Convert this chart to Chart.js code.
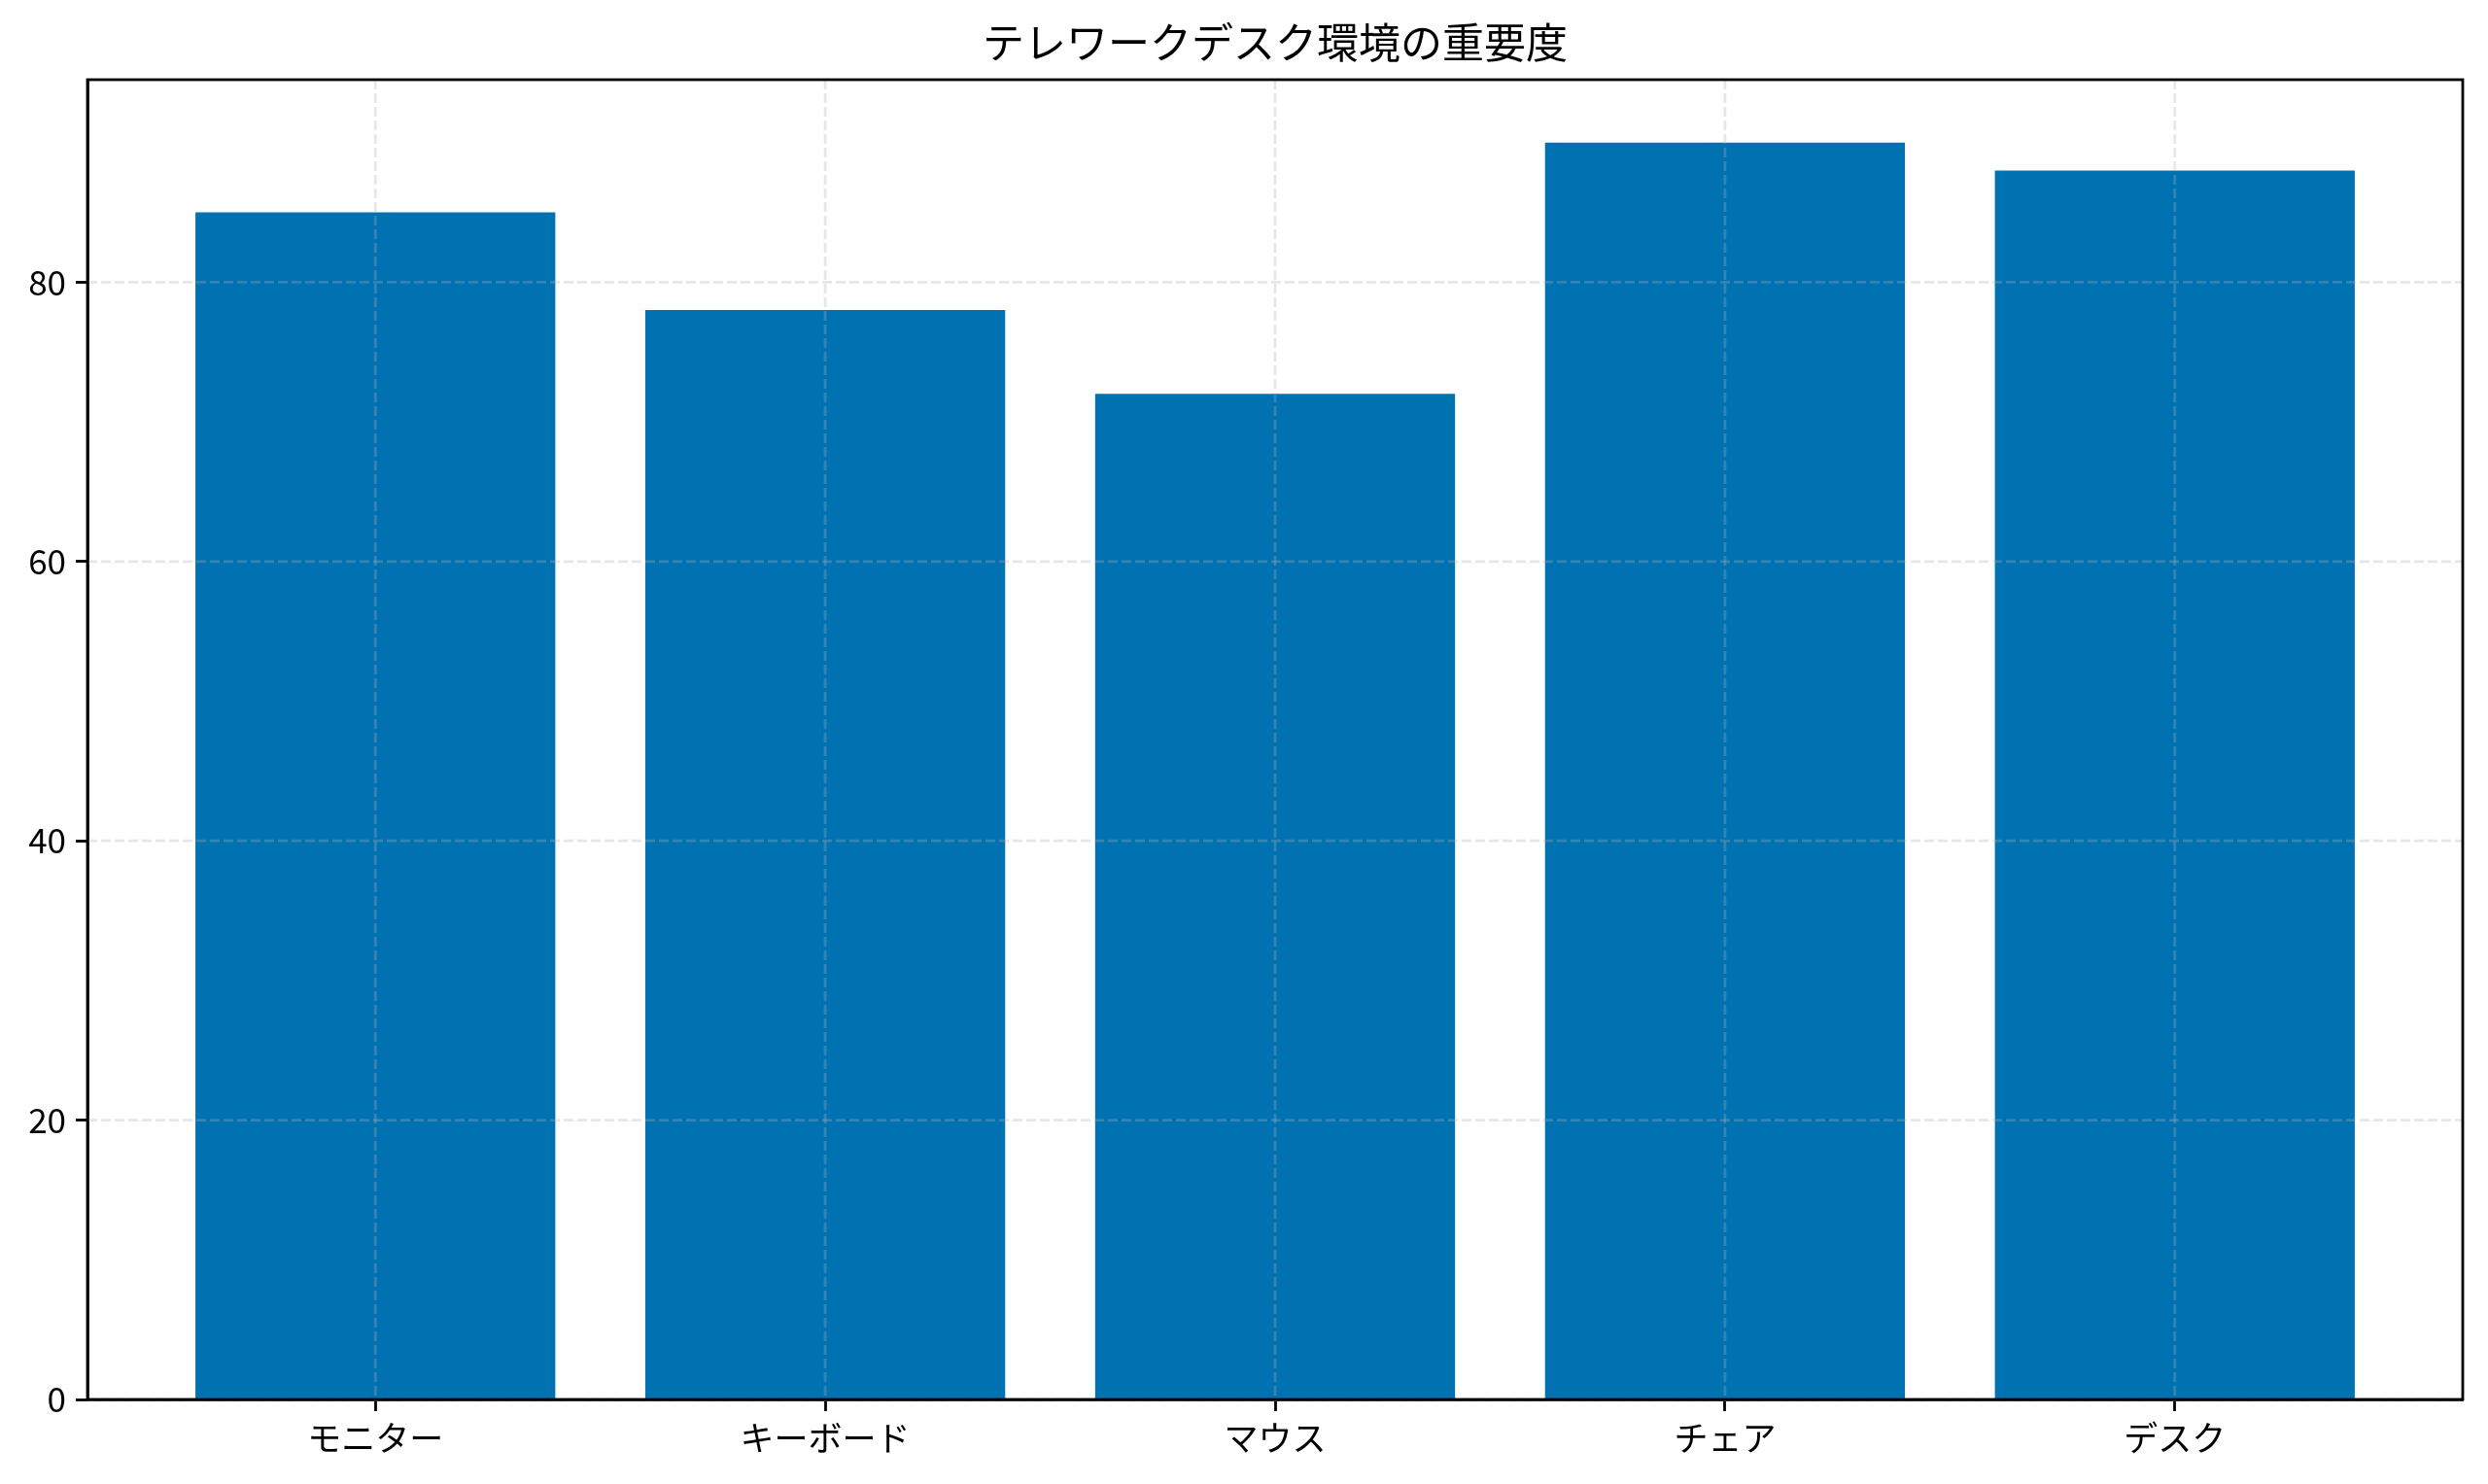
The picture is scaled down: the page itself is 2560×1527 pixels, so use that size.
<!DOCTYPE html>
<html>
<head>
<meta charset="utf-8">
<script src="https://cdn.jsdelivr.net/npm/chart.js@4/dist/chart.umd.min.js"></script>
<style>
  html, body { margin: 0; padding: 0; background: #fff; }
  canvas { display: block; }
</style>
</head>
<body>
<canvas id="chart" width="2560" height="1527" style="width:2560px;height:1527px"></canvas>
<script>
var categories = ["モニター", "キーボード", "マウス", "チェア", "デスク"];
var scores = [85, 78, 72, 90, 88];
var yTicks = [0, 20, 40, 60, 80];
var titleText = "テレワークデスク環境の重要度";

var barColor = "#0072B2";
var fontFamily = "'Noto Sans CJK JP', 'Noto Sans', sans-serif";

// matplotlib-style margins: bars 0.8 wide, 5% padding on each side
var xMin = -0.4 - 0.05 * (categories.length - 0.2);
var xMax = categories.length - 1 + 0.4 + 0.05 * (categories.length - 0.2);
var yMax = Math.max.apply(null, scores) * 1.05;

// dashed grid over the bars, the box around the axes, and the title centred on the plot
var overlay = {
  id: "overlay",
  afterDatasetsDraw: function (chart) {
    var ctx = chart.ctx;
    var area = chart.chartArea;
    var x = chart.scales.x, y = chart.scales.y;
    ctx.save();
    ctx.strokeStyle = "rgba(176,176,176,0.3)";
    ctx.lineWidth = 2.8;
    ctx.setLineDash([10, 4]);
    x.ticks.forEach(function (t) {
      var px = x.getPixelForValue(t.value);
      ctx.beginPath();
      ctx.moveTo(px, area.top);
      ctx.lineTo(px, area.bottom);
      ctx.stroke();
    });
    y.ticks.forEach(function (t) {
      var py = y.getPixelForValue(t.value);
      ctx.beginPath();
      ctx.moveTo(area.left, py);
      ctx.lineTo(area.right, py);
      ctx.stroke();
    });
    ctx.setLineDash([]);
    ctx.strokeStyle = "#000";
    ctx.lineWidth = 2.8;
    ctx.strokeRect(area.left, area.top, area.right - area.left, area.bottom - area.top);

    ctx.fillStyle = "#000";
    ctx.font = "43px " + fontFamily;
    ctx.textAlign = "center";
    ctx.textBaseline = "middle";
    ctx.fillText(titleText, (area.left + area.right) / 2, area.top - 38);
    ctx.restore();
  }
};

var ctx = document.getElementById("chart").getContext("2d");
var chart = new Chart(ctx, {
  type: "bar",
  data: {
    datasets: [
      {
        data: scores.map(function (v, i) { return { x: i, y: v }; }),
        backgroundColor: barColor,
        borderWidth: 0,
        barPercentage: 0.8,
        categoryPercentage: 1.0,
      },
    ],
  },
  options: {
    responsive: false,
    animation: false,
    devicePixelRatio: 1,
    layout: { padding: { left: 0, right: 26, top: 82, bottom: 0 } },
    plugins: {
      legend: { display: false },
      tooltip: { enabled: false },
      title: { display: false },
    },
    scales: {
      x: {
        type: "linear",
        min: xMin,
        max: xMax,
        offset: false,
        afterBuildTicks: function (axis) {
          axis.ticks = categories.map(function (c, i) { return { value: i }; });
        },
        afterFit: function (axis) { axis.height = 87; },
        ticks: {
          autoSkip: false,
          maxRotation: 0,
          color: "#000",
          padding: 7,
          font: { family: fontFamily, size: 35 },
          callback: function (value) { return categories[value]; },
        },
        grid: {
          offset: false,
          drawOnChartArea: false,
          drawTicks: true,
          tickLength: 12,
          tickWidth: 2.8,
          tickColor: "#000",
        },
        border: { display: true, color: "#000", width: 2.8 },
      },
      y: {
        min: 0,
        max: yMax,
        afterBuildTicks: function (axis) {
          axis.ticks = yTicks.map(function (v) { return { value: v }; });
        },
        afterFit: function (axis) { axis.width = 90; },
        ticks: {
          color: "#000",
          padding: 10,
          font: { family: fontFamily, size: 35 },
        },
        grid: {
          drawOnChartArea: false,
          drawTicks: true,
          tickLength: 12,
          tickWidth: 2.8,
          tickColor: "#000",
        },
        border: { display: true, color: "#000", width: 2.8 },
      },
    },
  },
  plugins: [overlay],
});
</script>
</body>
</html>
